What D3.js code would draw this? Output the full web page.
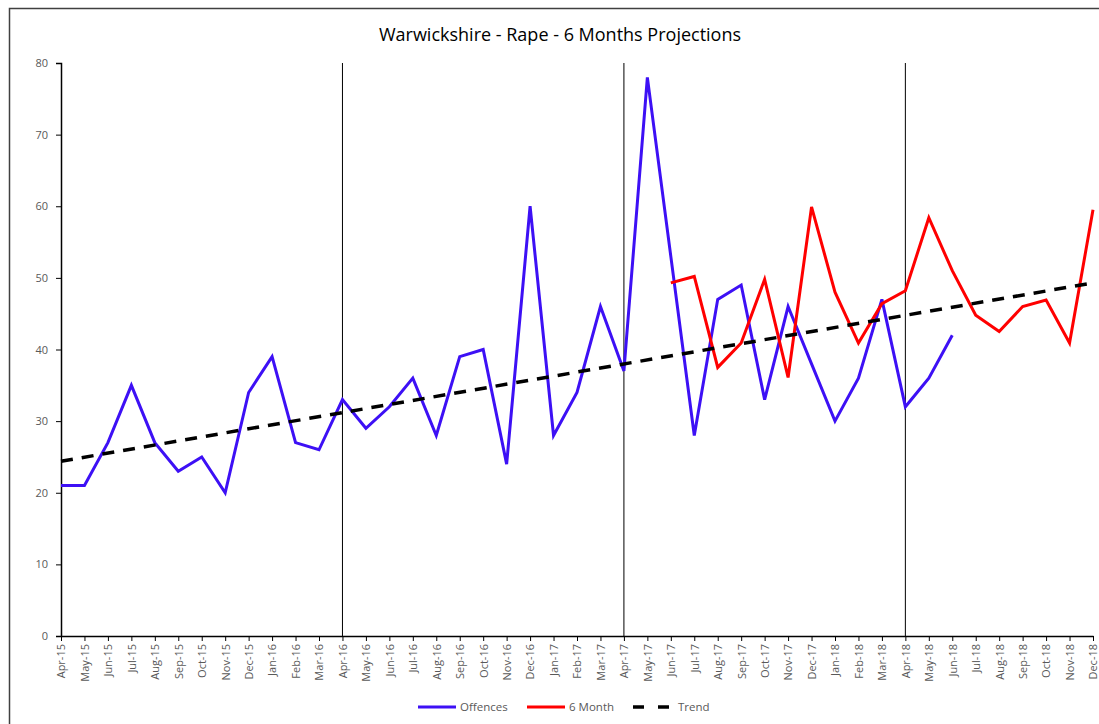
<!DOCTYPE html>
<html>
<head>
<meta charset="utf-8">
<script src="https://cdn.jsdelivr.net/npm/d3@7"></script>
<style>
  body { margin: 0; background: #fff; }
  svg { display: block; }
  .tick text { font-family: "Open Sans", sans-serif; font-size: 11px; }
</style>
</head>
<body>
<svg width="1099" height="724"></svg>
<script>
// month labels
var months = ["Apr-15","May-15","Jun-15","Jul-15","Aug-15","Sep-15","Oct-15","Nov-15","Dec-15","Jan-16","Feb-16","Mar-16",
  "Apr-16","May-16","Jun-16","Jul-16","Aug-16","Sep-16","Oct-16","Nov-16","Dec-16","Jan-17","Feb-17","Mar-17",
  "Apr-17","May-17","Jun-17","Jul-17","Aug-17","Sep-17","Oct-17","Nov-17","Dec-17","Jan-18","Feb-18","Mar-18",
  "Apr-18","May-18","Jun-18","Jul-18","Aug-18","Sep-18","Oct-18","Nov-18","Dec-18"];

var offences = [21,21,27,35,27,23,25,20,34,39,27,26,
  33,29,32,36,28,39,40,24,60,28,34,46,
  37,78,53,28,47,49,33,46,38,30,36,47,
  32,36,42];

// 6 month projection starts at Jun-17
var projStart = "Jun-17";
var projection = [49.3,50.2,37.5,40.9,49.8,36.1,59.9,48.0,40.9,46.4,48.2,58.4,51.0,44.8,42.5,46.0,46.9,40.9,59.5];

// trend line end points
var trendMonths = ["Apr-15","Dec-18"];
var trendValues = [24.4,49.3];

var yTicks = [0,10,20,30,40,50,60,70,80];
var dividers = ["Apr-16","Apr-17","Apr-18"];

var svg = d3.select("svg");
var margin = {top: 63, left: 61, right: 6, bottom: 88};
var width = 1099 - margin.left - margin.right;
var height = 724 - margin.top - margin.bottom;

// frame
svg.append("rect")
  .attr("x", 9.5).attr("y", 8.5)
  .attr("width", 1100).attr("height", 730)
  .attr("fill", "none").attr("stroke", "#404040").attr("stroke-width", 1.5);

svg.append("text")
  .attr("x", 560).attr("y", 41)
  .attr("text-anchor", "middle")
  .style("font-family", "Open Sans, sans-serif")
  .style("font-size", "18px")
  .attr("fill", "#000")
  .text("Warwickshire - Rape - 6 Months Projections");

var g = svg.append("g").attr("transform", "translate(" + margin.left + "," + margin.top + ")");

var x = d3.scalePoint().domain(months).range([0, width]);
var y = d3.scaleLinear().domain([0, 80]).range([height, 0]);

// dividers
g.selectAll(".divider").data(dividers).enter().append("line")
  .attr("class", "divider")
  .attr("x1", function (d) { return x(d); }).attr("x2", function (d) { return x(d); })
  .attr("y1", 0).attr("y2", height)
  .attr("stroke", "#000").attr("stroke-width", 1);

var yAxis = g.append("g")
  .call(d3.axisLeft(y).tickValues(yTicks).tickSize(5).tickPadding(8));
yAxis.select(".domain").attr("stroke", "#000").attr("stroke-width", 1.5);
yAxis.selectAll(".tick line").attr("stroke", "#000");
yAxis.selectAll(".tick text").attr("fill", "#595959");

var xAxis = g.append("g")
  .attr("transform", "translate(0," + height + ")")
  .call(d3.axisBottom(x).tickSize(5).tickSizeOuter(0));
xAxis.select(".domain").attr("stroke", "#000").attr("stroke-width", 1.5);
xAxis.selectAll(".tick line").attr("stroke", "#000");
xAxis.selectAll(".tick text")
  .attr("fill", "#595959")
  .attr("transform", "rotate(-90)")
  .attr("text-anchor", "end")
  .attr("x", -8).attr("y", 0).attr("dy", "0.35em");

var line = d3.line()
  .x(function (d) { return x(d.m); })
  .y(function (d) { return y(d.v); });

var offData = offences.map(function (v, i) { return {m: months[i], v: v}; });
var p0 = months.indexOf(projStart);
var projData = projection.map(function (v, i) { return {m: months[p0 + i], v: v}; });
var trendData = trendValues.map(function (v, i) { return {m: trendMonths[i], v: v}; });

g.append("path").datum(offData)
  .attr("d", line).attr("fill", "none")
  .attr("stroke", "#3d10f5").attr("stroke-width", 3).attr("stroke-linejoin", "miter");

g.append("path").datum(projData)
  .attr("d", line).attr("fill", "none")
  .attr("stroke", "#ff0000").attr("stroke-width", 3);

g.append("path").datum(trendData)
  .attr("d", line).attr("fill", "none")
  .attr("stroke", "#000").attr("stroke-width", 3.5)
  .attr("stroke-dasharray", "12,9");

// legend
var legend = [
  {name: "Offences", color: "#3d10f5", dash: null, x: 418},
  {name: "6 Month", color: "#ff0000", dash: null, x: 527},
  {name: "Trend", color: "#000", dash: "11,14", x: 633}
];
var lg = svg.append("g");
legend.forEach(function (d) {
  lg.append("line")
    .attr("x1", d.x).attr("x2", d.x + 38)
    .attr("y1", 707).attr("y2", 707)
    .attr("stroke", d.color).attr("stroke-width", d.dash ? 3.5 : 3)
    .attr("stroke-dasharray", d.dash);
  lg.append("text")
    .attr("x", d.x + (d.dash ? 45 : 42)).attr("y", 711)
    .style("font-family", "Open Sans, sans-serif")
    .style("font-size", "11.5px")
    .attr("fill", "#595959")
    .text(d.name);
});
</script>
</body>
</html>
